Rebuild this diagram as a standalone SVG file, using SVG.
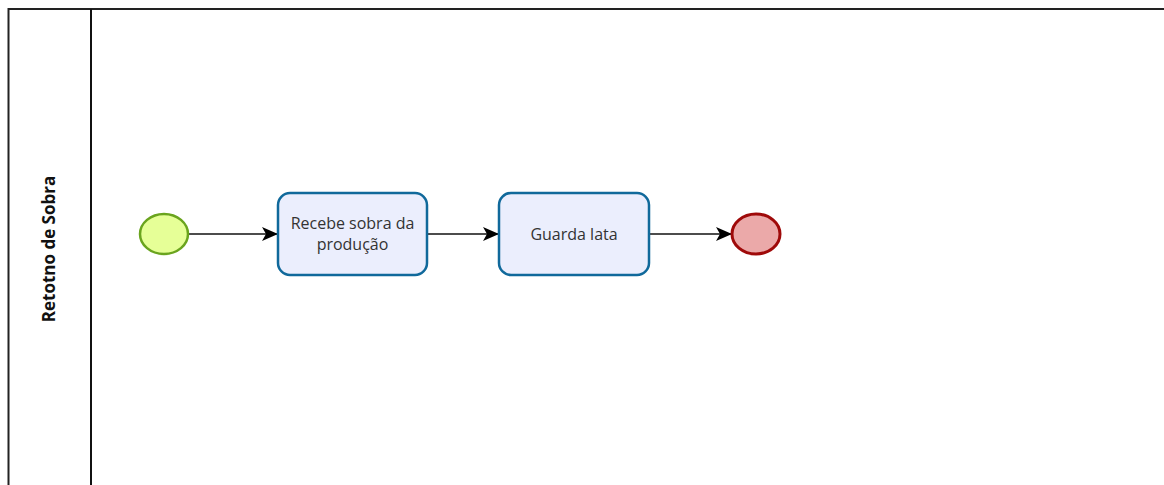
<svg xmlns="http://www.w3.org/2000/svg" width="1164" height="485" viewBox="0 0 1164 485">
<defs>
<marker id="arr" markerWidth="16" markerHeight="16" refX="15" refY="8" orient="auto" markerUnits="userSpaceOnUse" viewBox="0 0 16 16">
<path d="M0,1 L16,8 L0,15 L4,8 Z" fill="#000"/>
</marker>
</defs>
<style>
.task{fill:#ebeefd;stroke:#10699b;stroke-width:2.5}
.lbl{font-family:"Open Sans","Liberation Sans",sans-serif;font-size:16px;fill:#333;text-anchor:middle}
.conn{stroke:#111;stroke-width:1.5;fill:none;marker-end:url(#arr)}
</style>
<rect width="1164" height="485" fill="#fff"/>
<g id="pool">
<path d="M8.5,485 V9 H1164" fill="none" stroke="#222" stroke-width="2"/>
<line x1="91" y1="9" x2="91" y2="485" stroke="#111" stroke-width="2"/>
<text transform="translate(55,249) rotate(-90)" font-family="'Open Sans','Liberation Sans',sans-serif" font-size="17" font-weight="bold" fill="#111" text-anchor="middle">Retotno de Sobra</text>
</g>
<g id="connectors">
<line class="conn" x1="188" y1="234" x2="277" y2="234"/>
<line class="conn" x1="428" y1="234" x2="498" y2="234"/>
<line class="conn" x1="650" y1="234" x2="731" y2="234"/>
</g>
<g id="start">
<ellipse cx="164" cy="234" rx="24" ry="20" fill="#e6ff97" stroke="#6aa41e" stroke-width="2.5"/>
</g>
<g id="task1">
<rect class="task" x="278" y="193" width="149" height="82" rx="12"/>
<text class="lbl" x="352.5" y="229">Recebe sobra da</text>
<text class="lbl" x="352.5" y="250">produção</text>
</g>
<g id="task2">
<rect class="task" x="499" y="193" width="150" height="82" rx="12"/>
<text class="lbl" x="574" y="240">Guarda lata</text>
</g>
<g id="end">
<ellipse cx="756" cy="234" rx="24" ry="20" fill="#eba9a9" stroke="#9f0a0a" stroke-width="3"/>
</g>
</svg>
